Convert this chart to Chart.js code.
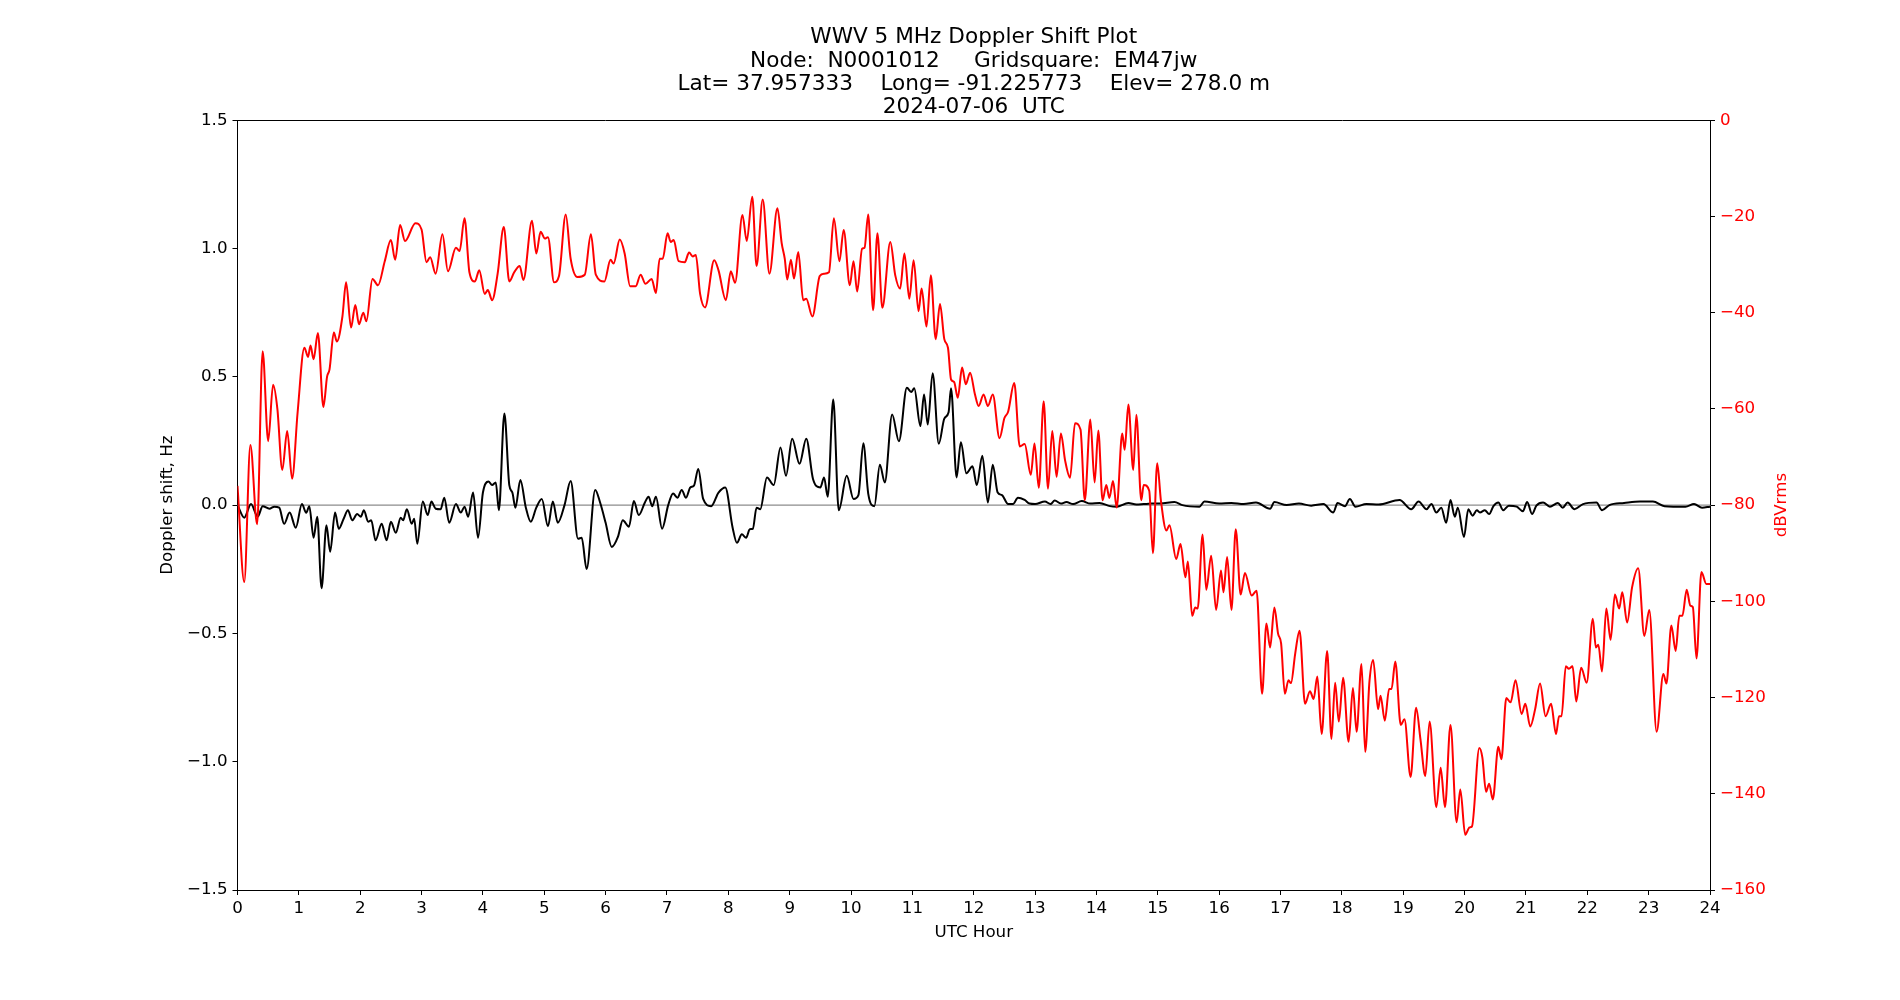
<!DOCTYPE html>
<html lang="en">
<head>
<meta charset="utf-8">
<title>WWV 5 MHz Doppler Shift Plot</title>
<script src="https://cdn.jsdelivr.net/npm/chart.js@4.4.1/dist/chart.umd.min.js"></script>
<style>
    html, body { margin: 0; padding: 0; background: #ffffff; }
    #dopplerChart { display: block; }
</style>
</head>
<body>
<canvas id="dopplerChart" width="1900" height="1000"></canvas>
<script>
// Chart text
const titleLines = [
    'WWV 5 MHz Doppler Shift Plot',
    'Node:  N0001012     Gridsquare:  EM47jw',
    'Lat= 37.957333    Long= -91.225773    Elev= 278.0 m',
    '2024-07-06  UTC'
];

// Axis ranges / ticks
const hourRange = [0, 24];
const dopplerRange = [-1.5, 1.5];
const powerRange = [-160, 0];

// Doppler shift (Hz), black trace
const dopHours = [
    0.00, 0.11, 0.22, 0.33, 0.41, 0.52, 0.60, 0.68, 0.76, 0.85, 0.95, 1.05, 1.12, 1.17, 1.24, 1.30,
    1.37, 1.45, 1.51, 1.59, 1.65, 1.73, 1.80, 1.87, 1.95, 2.01, 2.06, 2.13, 2.18, 2.25, 2.35, 2.43,
    2.50, 2.58, 2.66, 2.70, 2.76, 2.84, 2.88, 2.93, 3.02, 3.10, 3.16, 3.23, 3.31, 3.37, 3.45, 3.56,
    3.64, 3.70, 3.76, 3.84, 3.92, 4.00, 4.09, 4.15, 4.21, 4.26, 4.35, 4.43, 4.48, 4.53, 4.61, 4.70,
    4.78, 4.87, 4.96, 5.06, 5.14, 5.22, 5.33, 5.43, 5.55, 5.61, 5.69, 5.83, 5.91, 6.00, 6.10, 6.20,
    6.28, 6.38, 6.46, 6.54, 6.64, 6.70, 6.76, 6.82, 6.92, 7.02, 7.10, 7.17, 7.24, 7.31, 7.38, 7.44,
    7.51, 7.59, 7.72, 7.84, 7.95, 8.07, 8.14, 8.22, 8.29, 8.35, 8.40, 8.46, 8.52, 8.63, 8.74, 8.85,
    8.94, 9.04, 9.16, 9.27, 9.38, 9.50, 9.56, 9.62, 9.71, 9.80, 9.93, 10.04, 10.12, 10.20, 10.28, 10.38,
    10.47, 10.55, 10.67, 10.78, 10.91, 10.98, 11.03, 11.13, 11.19, 11.25, 11.33, 11.43, 11.52, 11.59, 11.63, 11.72,
    11.79, 11.88, 11.98, 12.05, 12.14, 12.23, 12.31, 12.39, 12.46, 12.56, 12.64, 12.72, 12.83, 12.91, 13.00, 13.16,
    13.25, 13.32, 13.42, 13.51, 13.62, 13.76, 13.90, 14.05, 14.22, 14.33, 14.52, 14.65, 14.77, 14.90, 15.04, 15.27,
    15.40, 15.68, 15.76, 16.00, 16.20, 16.40, 16.60, 16.83, 16.90, 17.10, 17.30, 17.50, 17.70, 17.86, 17.93, 18.05,
    18.13, 18.22, 18.40, 18.60, 18.94, 19.13, 19.25, 19.38, 19.46, 19.54, 19.62, 19.70, 19.77, 19.84, 19.89, 19.99,
    20.06, 20.13, 20.20, 20.25, 20.33, 20.40, 20.47, 20.55, 20.63, 20.72, 20.85, 20.95, 21.02, 21.10, 21.17, 21.28,
    21.39, 21.52, 21.60, 21.68, 21.79, 21.93, 22.15, 22.24, 22.36, 22.60, 22.86, 23.07, 23.26, 23.60, 23.74, 23.87,
    24.00
];
const dopValues = [
    0.000, -0.049, 0.004, -0.045, -0.004, -0.014, -0.006, -0.010, -0.073, -0.029, -0.088, 0.004, -0.030, -0.004, -0.127, -0.045,
    -0.324, -0.078, -0.182, -0.029, -0.092, -0.053, -0.020, -0.059, -0.035, -0.045, -0.020, -0.065, -0.059, -0.137, -0.073, -0.137,
    -0.065, -0.108, -0.049, -0.059, -0.016, -0.073, -0.053, -0.151, 0.014, -0.039, 0.014, -0.014, -0.016, 0.029, -0.069, 0.004,
    -0.029, -0.006, -0.045, 0.049, -0.127, 0.049, 0.092, 0.078, 0.088, -0.020, 0.357, 0.078, 0.049, -0.010, 0.098, -0.010,
    -0.065, -0.010, 0.024, -0.082, 0.014, -0.069, 0.000, 0.094, -0.131, -0.127, -0.249, 0.059, 0.010, -0.069, -0.163, -0.124,
    -0.059, -0.084, 0.016, -0.039, 0.010, 0.033, -0.004, 0.033, -0.092, 0.000, 0.045, 0.029, 0.059, 0.029, 0.069, 0.076,
    0.141, 0.024, -0.004, 0.049, 0.069, -0.088, -0.147, -0.114, -0.127, -0.094, -0.092, -0.010, -0.016, 0.108, 0.078, 0.225,
    0.114, 0.259, 0.161, 0.259, 0.102, 0.069, 0.108, 0.033, 0.412, -0.020, 0.114, 0.024, 0.039, 0.241, 0.045, -0.004,
    0.157, 0.088, 0.353, 0.249, 0.457, 0.441, 0.455, 0.308, 0.431, 0.314, 0.514, 0.239, 0.337, 0.362, 0.455, 0.108,
    0.245, 0.124, 0.151, 0.078, 0.192, 0.010, 0.157, 0.049, 0.039, 0.004, 0.004, 0.029, 0.020, 0.006, 0.004, 0.014,
    0.004, 0.018, 0.006, 0.012, 0.004, 0.016, 0.006, 0.008, -0.004, -0.006, 0.008, 0.002, 0.004, 0.006, 0.006, 0.012,
    0.000, -0.006, 0.014, 0.006, 0.008, 0.004, 0.010, -0.014, 0.012, 0.000, 0.006, -0.002, 0.004, -0.029, 0.008, -0.004,
    0.024, -0.006, 0.004, 0.002, 0.020, -0.016, 0.014, -0.016, 0.004, -0.029, -0.010, -0.069, 0.020, -0.045, -0.010, -0.124,
    -0.016, -0.041, -0.020, -0.029, -0.020, -0.035, -0.004, 0.010, -0.020, -0.002, -0.006, -0.024, 0.012, -0.035, -0.002, 0.010,
    -0.006, 0.008, -0.010, 0.010, -0.016, 0.004, 0.010, -0.020, 0.000, 0.008, 0.014, 0.014, -0.004, -0.006, 0.004, -0.010,
    -0.006
];

// Received level (dBVrms), red trace on the right axis
const dbHours = [
    0.00, 0.11, 0.21, 0.32, 0.41, 0.50, 0.58, 0.65, 0.73, 0.81, 0.89, 0.98, 1.09, 1.15, 1.19, 1.24,
    1.31, 1.40, 1.46, 1.50, 1.57, 1.62, 1.71, 1.77, 1.85, 1.92, 1.98, 2.05, 2.10, 2.20, 2.29, 2.40,
    2.50, 2.57, 2.65, 2.73, 2.90, 3.00, 3.08, 3.14, 3.23, 3.34, 3.43, 3.56, 3.62, 3.70, 3.78, 3.87,
    3.94, 4.03, 4.08, 4.15, 4.24, 4.34, 4.43, 4.51, 4.60, 4.66, 4.80, 4.87, 4.94, 5.01, 5.06, 5.16,
    5.24, 5.35, 5.43, 5.54, 5.66, 5.76, 5.84, 5.98, 6.08, 6.13, 6.23, 6.31, 6.40, 6.49, 6.57, 6.65,
    6.75, 6.82, 6.88, 6.93, 7.01, 7.06, 7.11, 7.19, 7.29, 7.36, 7.42, 7.47, 7.54, 7.62, 7.77, 7.84,
    7.96, 8.04, 8.11, 8.23, 8.30, 8.39, 8.46, 8.56, 8.67, 8.80, 8.87, 8.92, 8.96, 9.02, 9.07, 9.14,
    9.22, 9.27, 9.37, 9.49, 9.56, 9.64, 9.72, 9.81, 9.88, 9.98, 10.04, 10.10, 10.18, 10.22, 10.28, 10.36,
    10.43, 10.51, 10.64, 10.72, 10.80, 10.87, 10.95, 11.02, 11.10, 11.15, 11.23, 11.30, 11.38, 11.45, 11.52, 11.58,
    11.63, 11.68, 11.74, 11.81, 11.87, 11.94, 12.02, 12.08, 12.16, 12.23, 12.31, 12.42, 12.50, 12.56, 12.66, 12.75,
    12.83, 12.93, 12.99, 13.06, 13.14, 13.21, 13.28, 13.35, 13.42, 13.49, 13.57, 13.65, 13.74, 13.81, 13.90, 13.97,
    14.03, 14.10, 14.16, 14.21, 14.27, 14.33, 14.42, 14.46, 14.52, 14.60, 14.65, 14.73, 14.77, 14.86, 14.92, 14.99,
    15.05, 15.14, 15.19, 15.30, 15.37, 15.45, 15.49, 15.56, 15.61, 15.65, 15.73, 15.79, 15.87, 15.95, 16.03, 16.07,
    16.13, 16.20, 16.27, 16.35, 16.42, 16.53, 16.61, 16.70, 16.77, 16.83, 16.90, 16.96, 17.01, 17.07, 17.13, 17.17,
    17.24, 17.31, 17.40, 17.48, 17.54, 17.60, 17.67, 17.76, 17.83, 17.89, 17.95, 18.02, 18.11, 18.18, 18.24, 18.32,
    18.38, 18.45, 18.51, 18.59, 18.63, 18.70, 18.77, 18.81, 18.87, 18.96, 19.02, 19.12, 19.21, 19.28, 19.36, 19.43,
    19.54, 19.61, 19.68, 19.77, 19.87, 19.93, 20.01, 20.08, 20.12, 20.24, 20.29, 20.35, 20.40, 20.46, 20.55, 20.60,
    20.68, 20.75, 20.83, 20.93, 20.99, 21.07, 21.15, 21.23, 21.32, 21.41, 21.49, 21.54, 21.58, 21.65, 21.70, 21.76,
    21.82, 21.90, 21.99, 22.09, 22.14, 22.18, 22.24, 22.31, 22.38, 22.45, 22.52, 22.57, 22.65, 22.73, 22.83, 22.93,
    23.01, 23.13, 23.24, 23.29, 23.37, 23.44, 23.50, 23.55, 23.62, 23.68, 23.72, 23.78, 23.86, 23.94, 24.00
];
const dbValues = [
    -76.0, -96.0, -67.5, -84.0, -48.0, -66.7, -55.0, -60.0, -72.7, -64.6, -74.5, -60.7, -47.3, -49.2, -46.8, -49.7,
    -44.2, -59.6, -53.3, -51.8, -44.1, -46.0, -40.8, -33.7, -43.1, -38.4, -42.4, -40.0, -41.8, -33.0, -34.3, -29.3,
    -24.9, -29.0, -21.8, -25.1, -21.4, -22.7, -29.5, -28.5, -31.9, -23.7, -31.4, -26.5, -27.2, -20.4, -31.6, -33.5,
    -31.2, -36.1, -35.3, -37.4, -31.9, -22.2, -33.5, -31.6, -30.3, -33.2, -20.9, -27.7, -23.2, -24.6, -24.3, -33.7,
    -32.4, -19.6, -28.8, -32.6, -32.1, -23.7, -32.1, -33.5, -29.0, -29.8, -24.8, -27.7, -34.5, -34.5, -32.1, -34.0,
    -33.0, -35.9, -28.8, -28.8, -23.5, -25.3, -24.9, -29.3, -29.5, -27.5, -28.3, -28.0, -36.1, -38.9, -29.1, -31.2,
    -37.4, -31.4, -33.8, -19.7, -25.1, -15.9, -30.3, -16.5, -31.9, -18.3, -25.6, -28.8, -33.1, -29.0, -32.9, -27.4,
    -37.4, -37.1, -40.8, -32.4, -31.9, -31.6, -20.4, -29.3, -22.8, -34.3, -29.3, -35.6, -26.7, -26.5, -19.6, -39.5,
    -23.5, -39.0, -25.3, -32.2, -35.0, -27.7, -37.1, -29.1, -39.7, -35.0, -42.9, -32.2, -45.5, -38.2, -45.5, -47.3,
    -53.9, -54.4, -57.7, -51.4, -54.9, -52.5, -57.0, -59.4, -57.0, -59.4, -57.0, -66.1, -61.9, -60.6, -54.6, -67.8,
    -67.3, -73.7, -67.2, -76.4, -58.4, -76.6, -64.6, -74.1, -65.1, -70.8, -74.3, -63.0, -64.3, -79.0, -62.2, -75.3,
    -64.5, -79.0, -75.8, -78.5, -75.0, -80.5, -65.1, -68.5, -59.1, -72.7, -61.2, -79.0, -75.8, -77.0, -90.0, -71.3,
    -79.0, -85.3, -84.2, -91.2, -88.1, -95.0, -91.7, -103.0, -101.3, -101.5, -86.1, -97.6, -90.5, -101.8, -93.6, -98.1,
    -90.8, -101.8, -85.0, -98.6, -94.1, -98.8, -97.8, -119.2, -104.6, -109.6, -101.3, -106.7, -108.8, -119.2, -116.4, -117.0,
    -110.8, -106.1, -121.3, -118.7, -120.3, -115.6, -127.6, -110.3, -128.6, -116.9, -125.0, -115.9, -129.2, -118.0, -127.1, -113.0,
    -131.3, -116.6, -112.2, -122.4, -119.6, -124.8, -118.2, -118.2, -112.5, -125.7, -124.5, -136.5, -122.1, -128.6, -136.3, -125.0,
    -142.8, -134.6, -142.8, -125.7, -145.9, -139.1, -148.5, -147.0, -146.8, -130.5, -132.5, -139.6, -137.9, -141.2, -130.2, -132.8,
    -120.1, -121.0, -116.4, -123.4, -121.3, -126.0, -122.4, -117.1, -123.9, -121.3, -127.6, -123.9, -123.9, -113.5, -114.0, -113.5,
    -120.8, -113.8, -116.9, -103.6, -109.6, -109.0, -114.6, -101.5, -108.0, -98.6, -101.5, -98.1, -104.4, -97.1, -93.1, -107.2,
    -101.8, -127.1, -115.1, -117.1, -105.0, -110.3, -103.0, -103.0, -97.6, -100.9, -101.2, -111.9, -93.9, -96.4, -96.4
];

const FONT = "'DejaVu Sans', sans-serif";
const TICK_SIZE = 16.7;   // 12 pt at 100 dpi
const TITLE_SIZE = 21.6;  // title is a bit larger than the tick text

// Pair up x/y arrays for a linear x axis
function toPoints(xs, ys) {
    return xs.map((x, i) => ({ x: x, y: ys[i] }));
}

// Matplotlib style minus sign
function fmtMinus(text) {
    return String(text).replace('-', '\u2212');
}

// Right-hand axis label, drawn bottom-to-top like matplotlib
const rightLabelPlugin = {
    id: 'rightLabel',
    afterDraw(chart) {
        const { ctx, chartArea } = chart;
        ctx.save();
        ctx.translate(1782, (chartArea.top + chartArea.bottom) / 2);
        ctx.rotate(-Math.PI / 2);
        ctx.fillStyle = '#ff0000';
        ctx.font = `${TICK_SIZE}px ${FONT}`;
        ctx.textAlign = 'center';
        ctx.textBaseline = 'middle';
        ctx.fillText('dBVrms', 0, 0);
        ctx.restore();
    }
};

const ctx = document.getElementById('dopplerChart').getContext('2d');

new Chart(ctx, {
    type: 'line',
    data: {
        datasets: [
            {
                label: 'dBVrms',
                data: toPoints(dbHours, dbValues),
                yAxisID: 'y2',
                borderColor: '#ff0000',
                borderWidth: 2,
                pointRadius: 0,
                cubicInterpolationMode: 'monotone',
                order: 0
            },
            {
                label: 'Doppler shift',
                data: toPoints(dopHours, dopValues),
                yAxisID: 'y',
                borderColor: '#000000',
                borderWidth: 2,
                pointRadius: 0,
                cubicInterpolationMode: 'monotone',
                order: 1
            },
            {
                label: 'zero',
                data: toPoints(hourRange, [0, 0]),
                yAxisID: 'y',
                borderColor: '#8c8c8c',
                borderWidth: 1.2,
                pointRadius: 0,
                order: 2
            }
        ]
    },
    options: {
        responsive: false,
        devicePixelRatio: 1,
        animation: false,
        events: [],
        layout: { padding: 0 },
        plugins: {
            legend: { display: false },
            tooltip: { enabled: false },
            title: {
                display: true,
                fullSize: false,   // centre over the plot area, not the whole canvas
                text: titleLines,
                color: '#000000',
                font: { family: FONT, size: TITLE_SIZE, weight: 'normal', lineHeight: 1.079 },
                padding: { top: 26, bottom: 1 }
            }
        },
        scales: {
            x: {
                type: 'linear',
                position: 'bottom',
                min: hourRange[0],
                max: hourRange[1],
                afterFit: (scale) => { scale.height = 110; },
                border: { display: true, color: '#000000', width: 1 },
                grid: { drawOnChartArea: false, drawTicks: true, tickLength: 5, color: '#000000' },
                ticks: {
                    stepSize: 1,
                    autoSkip: false,
                    maxRotation: 0,
                    padding: 4,
                    color: '#000000',
                    font: { family: FONT, size: TICK_SIZE }
                },
                title: {
                    display: true,
                    text: 'UTC Hour',
                    color: '#000000',
                    font: { family: FONT, size: TICK_SIZE, lineHeight: 1.2 },
                    padding: { top: 0, bottom: 57.5 }
                }
            },
            xTop: {
                type: 'linear',
                position: 'top',
                min: hourRange[0],
                max: hourRange[1],
                afterFit: (scale) => { scale.height = 0; },
                border: { display: true, color: '#000000', width: 1 },
                grid: { drawOnChartArea: false, drawTicks: false },
                ticks: { display: false }
            },
            y: {
                type: 'linear',
                position: 'left',
                min: dopplerRange[0],
                max: dopplerRange[1],
                afterFit: (scale) => { scale.width = 237.5; },
                border: { display: true, color: '#000000', width: 1 },
                grid: { drawOnChartArea: false, drawTicks: true, tickLength: 5, color: '#000000' },
                ticks: {
                    stepSize: 0.5,
                    padding: 5,
                    color: '#000000',
                    font: { family: FONT, size: TICK_SIZE },
                    callback: (v) => fmtMinus(Number(v).toFixed(1))
                },
                title: {
                    display: true,
                    text: 'Doppler shift, Hz',
                    color: '#000000',
                    font: { family: FONT, size: TICK_SIZE, lineHeight: 1.2 },
                    padding: { top: 157.5, bottom: 0 }
                }
            },
            y2: {
                type: 'linear',
                position: 'right',
                min: powerRange[0],
                max: powerRange[1],
                afterFit: (scale) => { scale.width = 190; },
                border: { display: true, color: '#000000', width: 1 },
                grid: { drawOnChartArea: false, drawTicks: true, tickLength: 5, color: '#000000' },
                ticks: {
                    stepSize: 20,
                    padding: 5,
                    color: '#ff0000',
                    font: { family: FONT, size: TICK_SIZE },
                    callback: (v) => fmtMinus(v)
                }
            }
        }
    },
    plugins: [rightLabelPlugin]
});
</script>
</body>
</html>
